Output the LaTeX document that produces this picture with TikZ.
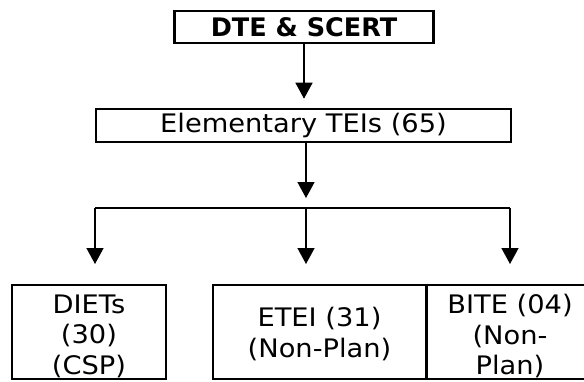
\documentclass[tikz,border=0pt]{standalone}
\usepackage{fontspec}
\setmainfont{DejaVu Sans}[FakeStretch=1.07,BoldFeatures={FakeStretch=1.0}]
\usetikzlibrary{arrows.meta}
\begin{document}
\begin{tikzpicture}[x=1pt,y=-1pt,
  box/.style={draw=black,line width=2.6pt,inner sep=0pt},
  txt/.style={inner sep=0pt,align=center,font=\fontsize{25.5}{30.5}\selectfont},
  conn/.style={line width=1.5pt},
  arr/.style={line width=1.5pt,-{Triangle[width=17pt,length=16pt]}}]
\useasboundingbox (0,0) rectangle (584,381);
% boxes
\node[box,minimum width=259pt,minimum height=32pt] (dte) at (304,27) {};
\node[txt,font=\fontsize{25.5}{30}\selectfont\bfseries] (dtet) at (dte.center) {DTE \& SCERT};
\node[box,minimum width=415pt,minimum height=33pt] (elem) at (303.5,125.5) {};
\node[txt] (elemt) at (elem.center) {Elementary TEIs (65)};
\node[box,minimum width=154pt,minimum height=94pt] (diets) at (89,332) {};
\node[txt] (dietst) at ([yshift=-4pt]diets.center) {DIETs\\(30)\\(CSP)};
\node[box,minimum width=213pt,minimum height=94pt] (etei) at (319.5,332) {};
\node[txt] (eteit) at ([yshift=-2pt]etei.center) {ETEI (31)\\(Non-Plan)};
\node[box,minimum width=168pt,minimum height=94pt] (bite) at (510,332) {};
\node[txt] (bitet) at ([yshift=-4pt]bite.center) {BITE (04)\\(Non-\\Plan)};
\draw[line width=1.6pt] (etei.north east) -- (etei.south east);
% connectors
\draw[arr] (dte.south) -- ([yshift=9pt]elem.north -| dte.south);
\coordinate (j) at (306,208);
\coordinate (jl) at (95,208);
\coordinate (jr) at (510,208);
\coordinate (tl) at (95,264);
\coordinate (tm) at (306,264);
\coordinate (tr) at (510,264);
\draw[arr] (elem.south -| j) -- ([yshift=10pt]j);
\draw[conn] (jl) -- (jr);
\draw[arr] (jl) -- (tl);
\draw[arr] (j) -- (tm);
\draw[arr] (jr) -- (tr);
\end{tikzpicture}
\end{document}
